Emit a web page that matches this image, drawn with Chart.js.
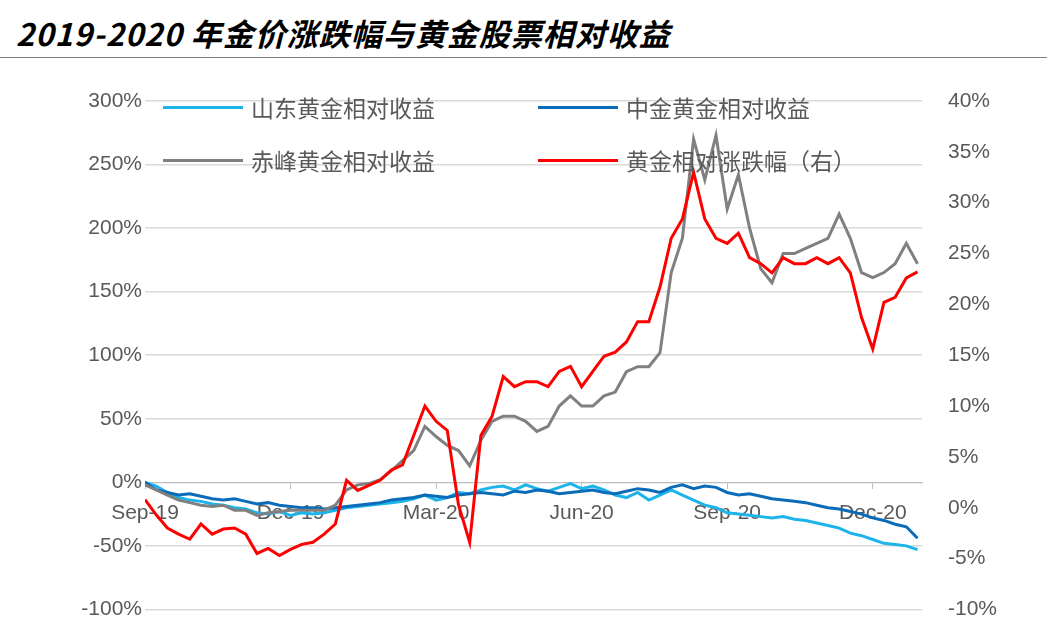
<!DOCTYPE html>
<html><head><meta charset="utf-8">
<script src="https://cdn.jsdelivr.net/npm/chart.js@4"></script>
<style>
body{margin:0;width:1047px;height:640px;background:#fff;overflow:hidden;font-family:"Noto Sans CJK SC",sans-serif;position:relative}
#title{position:absolute;left:16px;top:10px;font-size:31px;font-weight:bold;font-style:italic;color:#000;letter-spacing:1px}
#rule{position:absolute;left:0;top:57px;width:1047px;height:1px;background:#7f7f7f}
#wrap{position:absolute;left:0;top:70px;width:1047px;height:570px}
.lg{position:absolute;font-size:23px;color:#595959;display:flex;align-items:center}
.lg i{display:inline-block;width:80px;height:3px;margin-right:8px}
</style></head><body>
<div id="title">2019-2020 年金价涨跌幅与黄金股票相对收益</div>
<div id="rule"></div>
<div id="wrap"><canvas id="c" width="1047" height="570"></canvas></div>
<div class="lg" style="left:163px;top:90px"><i style="background:#1cb4ea"></i>山东黄金相对收益</div>
<div class="lg" style="left:538px;top:90px"><i style="background:#0a6cb8"></i>中金黄金相对收益</div>
<div class="lg" style="left:163px;top:143px"><i style="background:#808080"></i>赤峰黄金相对收益</div>
<div class="lg" style="left:538px;top:143px"><i style="background:#ff0000"></i>黄金相对涨跌幅（右）</div>
<script>
const xTickWeeks=[0,13,26,39,52,65];
const xTickLabels=["Sep-19","Dec-19","Mar-20","Jun-20","Sep-20","Dec-20"];
const weeks=[...Array(70).keys()];
const shandong=[0,-3,-8,-12,-14,-15,-17,-18,-20,-21,-24,-25,-23,-26,-24,-25,-24,-22,-20,-19,-18,-17,-16,-15,-13,-10,-14,-12,-8,-9,-6,-4,-3,-6,-2,-5,-7,-4,-1,-5,-3,-6,-10,-12,-8,-14,-10,-6,-10,-14,-18,-20,-24,-25,-26,-27,-28,-27,-29,-30,-32,-34,-36,-40,-42,-45,-48,-49,-50,-53];
const zhongjin=[0,-6,-8,-10,-9,-11,-13,-14,-13,-15,-17,-16,-18,-19,-20,-20,-21,-20,-19,-18,-17,-16,-14,-13,-12,-10,-11,-12,-10,-9,-8,-9,-10,-7,-8,-6,-7,-9,-8,-7,-6,-8,-9,-7,-5,-6,-8,-4,-2,-5,-3,-4,-8,-10,-9,-11,-13,-14,-15,-16,-18,-20,-21,-23,-25,-28,-30,-33,-35,-44];
const chifeng=[-2,-6,-10,-14,-16,-18,-19,-18,-22,-22,-26,-24,-23,-22,-22,-22,-22,-18,-6,-2,-1,2,9,17,25,44,36,29,25,13,33,48,52,52,48,40,44,60,68,60,60,68,71,87,91,91,102,165,192,270,238,273,215,242,200,168,157,180,180,184,188,192,211,192,165,161,165,172,188,172];
const goldRel=[0.8,-0.7,-2,-2.6,-3.1,-1.6,-2.6,-2.1,-2,-2.6,-4.5,-4,-4.7,-4.1,-3.6,-3.4,-2.6,-1.6,2.7,1.7,2.2,2.7,3.7,4.2,7.1,10,8.5,7.6,0.3,-3.4,7.1,9,12.9,11.9,12.4,12.4,11.9,13.4,13.9,11.9,13.4,14.9,15.3,16.3,18.3,18.3,21.7,26.5,28.4,33,28.4,26.5,26,27,24.6,24,23.1,24.6,24,24,24.6,24,24.6,23.1,18.7,15.6,20.2,20.7,22.6,23.2];
const pts=a=>a.map((v,i)=>({x:weeks[i],y:v}));
const ds=(d,c,ax)=>({data:pts(d),borderColor:c,borderWidth:3,pointRadius:0,tension:0,yAxisID:ax});
const tickFont={family:"Liberation Sans, Arial",size:21};
new Chart(document.getElementById('c'),{
 type:'line',
 data:{datasets:[ds(goldRel,'#ff0000','y2'),ds(chifeng,'#808080','y'),ds(zhongjin,'#0a6cb8','y'),ds(shandong,'#1cb4ea','y')]},
 options:{responsive:false,animation:false,events:[],
  layout:{padding:{top:31,bottom:15}},
  plugins:{legend:{display:false},tooltip:{enabled:false}},
  scales:{
   x:{type:'linear',min:0,max:69.4,position:{y:0},
      afterBuildTicks:s=>{s.ticks=xTickWeeks.map(v=>({value:v}));},
      ticks:{color:'#595959',font:tickFont,padding:12,maxRotation:0,autoSkip:false,
        callback:v=>xTickLabels[xTickWeeks.indexOf(v)]},
      grid:{display:true,drawOnChartArea:false,drawTicks:true,tickLength:6,color:'#bfbfbf'},
      border:{color:'#bfbfbf',width:1}},
   y:{min:-100,max:300,ticks:{stepSize:50,color:'#595959',font:tickFont,callback:v=>v+'%'},
      grid:{color:'#d9d9d9',drawTicks:false,lineWidth:1.5},border:{display:false},
      afterFit:s=>{s.width=145;}},
   y2:{position:'right',min:-10,max:40,ticks:{stepSize:5,color:'#595959',font:tickFont,padding:18,callback:v=>v+'%'},
      grid:{display:false},border:{display:false},afterFit:s=>{s.width=125;}}
  }}
});
</script></body></html>
